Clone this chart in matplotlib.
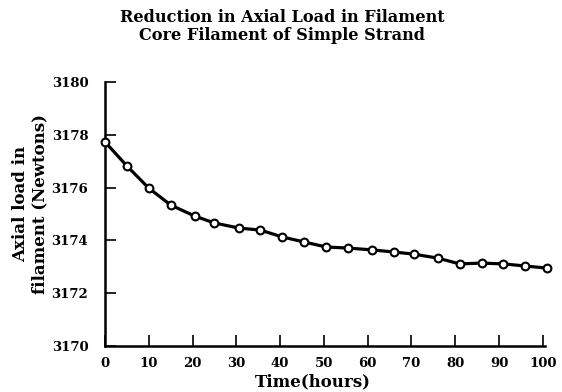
import matplotlib
matplotlib.use("Agg")
import matplotlib.pyplot as plt

hours = [0, 5, 10, 15, 20.5, 25, 30.5, 35.5, 40.5, 45.5, 50.5, 55.5, 61, 66, 70.5, 76, 81, 86, 91, 96, 101]
load = [3177.73, 3176.82, 3175.98, 3175.34, 3174.92, 3174.66, 3174.47, 3174.39, 3174.13, 3173.94,
        3173.75, 3173.71, 3173.64, 3173.56, 3173.48, 3173.33, 3173.11, 3173.14, 3173.11, 3173.03, 3172.95]
xticks = [0, 10, 20, 30, 40, 50, 60, 70, 80, 90, 100]
yticks = [3170, 3172, 3174, 3176, 3178, 3180]

plt.rcParams['font.family'] = ['DejaVu Serif']
plt.rcParams['font.weight'] = 'bold'

fig = plt.figure(figsize=(5.62, 3.92), dpi=100)
ax = fig.add_axes([105/562, 1-346/392, 440/562, (346-82)/392])

ax.plot(hours, load, color='black', lw=2.3, marker='o', markersize=5.6,
        markerfacecolor='white', markeredgecolor='black', markeredgewidth=1.5, clip_on=False, zorder=3)

ax.set_xlim(0, 100.5)
ax.set_ylim(3170, 3180)
ax.set_xticks(xticks)
ax.set_yticks(yticks)
ax.set_xticklabels([str(v) for v in xticks], fontsize=9.5, fontweight='bold')
ax.set_yticklabels([str(v) for v in yticks], fontsize=9.5, fontweight='bold')
ax.tick_params(direction='in', length=8, width=1.2)
ax.tick_params(axis='y', pad=12)
ax.tick_params(axis='x', pad=8)
for s in ['top', 'right']:
    ax.spines[s].set_visible(False)
for s in ['left', 'bottom']:
    ax.spines[s].set_linewidth(1.8)

fig.text(282/562, 1-17/392, 'Reduction in Axial Load in Filament', ha='center', va='center',
         fontsize=11.6, fontweight='bold')
fig.text(282/562, 1-36/392, 'Core Filament of Simple Strand', ha='center', va='center',
         fontsize=11.6, fontweight='bold')
fig.text(313/562, 1-382/392, 'Time(hours)', ha='center', va='center', fontsize=12, fontweight='bold')
fig.text(30/562, 1-204/392, 'Axial load in\nfilament (Newtons)', ha='center', va='center',
         rotation=90, fontsize=12, fontweight='bold', linespacing=1.15)

fig.savefig('out.png', dpi=100)
